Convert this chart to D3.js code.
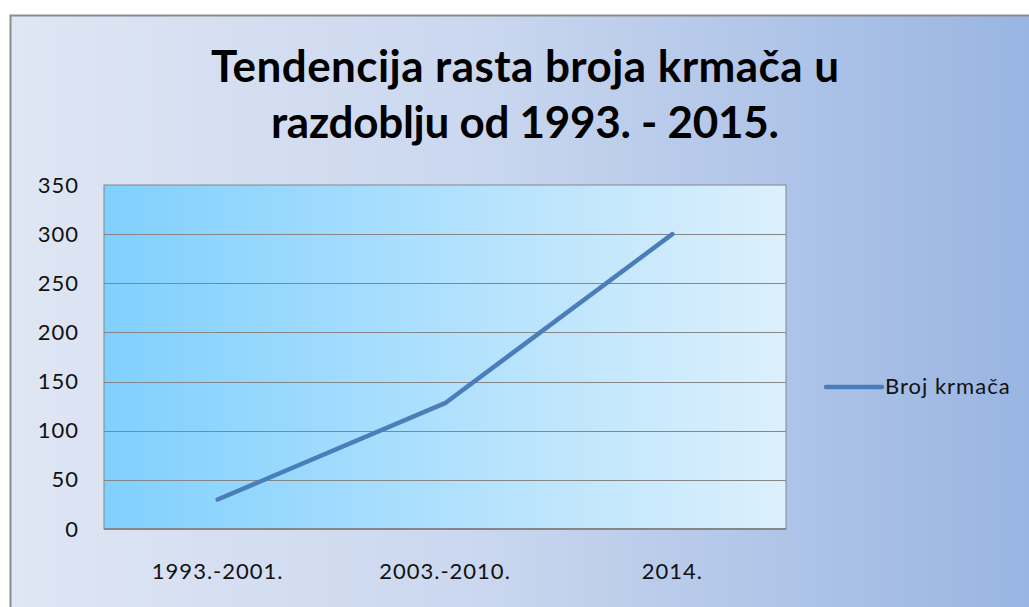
<!DOCTYPE html>
<html>
<head>
<meta charset="utf-8">
<script src="https://cdn.jsdelivr.net/npm/d3@7"></script>
<style>
  html, body { margin: 0; padding: 0; background: #fff; }
  svg { display: block; }
  text { font-family: Lato, "Noto Sans", sans-serif; }
</style>
</head>
<body>
<div id="chart"></div>
<script>
// data
const categories = ["1993.-2001.", "2003.-2010.", "2014."];
const brojKrmaca = [30, 128, 300];
const yTicks = [0, 50, 100, 150, 200, 250, 300, 350];
const seriesName = "Broj krmača";
const titleLines = ["Tendencija rasta broja krmača u", "razdoblju od 1993. - 2015."];

const width = 1029, height = 607;
const plot = { left: 104, top: 185, right: 786, bottom: 529 };
const titleWidths = [628, 508];

const svg = d3.select("#chart").append("svg")
    .attr("width", width)
    .attr("height", height);

const defs = svg.append("defs");
const bgGrad = defs.append("linearGradient").attr("id", "bgGrad")
    .attr("x1", "0%").attr("x2", "100%").attr("y1", "0%").attr("y2", "0%");
bgGrad.append("stop").attr("offset", "0%").attr("stop-color", "#dfe6f4");
bgGrad.append("stop").attr("offset", "45%").attr("stop-color", "#cad7ef");
bgGrad.append("stop").attr("offset", "100%").attr("stop-color", "#96b3e1");

const plotGrad = defs.append("linearGradient").attr("id", "plotGrad")
    .attr("x1", "0%").attr("x2", "100%").attr("y1", "0%").attr("y2", "0%");
plotGrad.append("stop").attr("offset", "0%").attr("stop-color", "#80d0fd");
plotGrad.append("stop").attr("offset", "55%").attr("stop-color", "#b4e2fd");
plotGrad.append("stop").attr("offset", "100%").attr("stop-color", "#dcf0fc");

// chart background with border
svg.append("rect")
    .attr("x", 10.5).attr("y", 15.5)
    .attr("width", width + 20).attr("height", height + 20)
    .attr("fill", "url(#bgGrad)")
    .attr("stroke", "#8c8c8c")
    .attr("stroke-width", 2);

// title
const title = svg.append("text")
    .attr("text-anchor", "middle")
    .attr("font-size", 44)
    .attr("font-weight", "bold")
    .attr("fill", "#000");
titleLines.forEach((t, i) => {
    title.append("tspan")
        .attr("x", 525)
        .attr("y", 82 + i * 56)
        .attr("textLength", titleWidths[i])
        .attr("lengthAdjust", "spacing")
        .text(t);
});

const x = d3.scaleBand()
    .domain(categories)
    .range([plot.left, plot.right]);

const y = d3.scaleLinear()
    .domain([0, 350])
    .range([plot.bottom, plot.top]);

// plot area
svg.append("rect")
    .attr("x", plot.left).attr("y", plot.top)
    .attr("width", plot.right - plot.left)
    .attr("height", plot.bottom - plot.top)
    .attr("fill", "url(#plotGrad)")
    .attr("stroke", "#868686")
    .attr("stroke-width", 1);

// gridlines
svg.append("g").selectAll("line")
    .data(yTicks.filter(d => d > 0 && d < 350))
    .enter()
    .append("line")
    .attr("x1", plot.left).attr("x2", plot.right)
    .attr("y1", d => Math.round(y(d)) + 0.5)
    .attr("y2", d => Math.round(y(d)) + 0.5)
    .attr("stroke", "#868686")
    .attr("stroke-width", 1);

// bottom axis line
svg.append("line")
    .attr("x1", plot.left).attr("x2", plot.right)
    .attr("y1", plot.bottom).attr("y2", plot.bottom)
    .attr("stroke", "#868686")
    .attr("stroke-width", 2);

// y axis
const yAxis = svg.append("g")
    .attr("transform", "translate(" + (plot.left - 25) + ",0)")
    .call(d3.axisLeft(y).tickValues(yTicks).tickSize(0).tickPadding(0));
yAxis.select(".domain").remove();
yAxis.selectAll("text")
    .attr("font-size", 22)
    .attr("letter-spacing", 1)
    .attr("fill", "#111")
    .style("font-family", "Lato, 'Noto Sans', sans-serif");

// x axis
const xAxis = svg.append("g")
    .attr("transform", "translate(0," + plot.bottom + ")")
    .call(d3.axisBottom(x).tickSize(0).tickPadding(34));
xAxis.select(".domain").remove();
xAxis.selectAll("text")
    .attr("font-size", 22)
    .attr("letter-spacing", 1)
    .attr("fill", "#111")
    .style("font-family", "Lato, 'Noto Sans', sans-serif");

// line
const line = d3.line()
    .x((d, i) => x(categories[i]) + x.bandwidth() / 2)
    .y(d => y(d));

svg.append("path")
    .datum(brojKrmaca)
    .attr("d", line)
    .attr("fill", "none")
    .attr("stroke", "#4a7ebb")
    .attr("stroke-width", 4.5)
    .attr("stroke-linecap", "round")
    .attr("stroke-linejoin", "round");

// legend
const legend = svg.append("g").attr("transform", "translate(826,387)");
legend.append("line")
    .attr("x1", 0).attr("x2", 56)
    .attr("y1", 0).attr("y2", 0)
    .attr("stroke", "#4a7ebb")
    .attr("stroke-width", 4.5)
    .attr("stroke-linecap", "round");
legend.append("text")
    .attr("x", 59).attr("y", 7)
    .attr("font-size", 22)
    .attr("letter-spacing", 1)
    .attr("fill", "#111")
    .text(seriesName);
</script>
</body>
</html>
